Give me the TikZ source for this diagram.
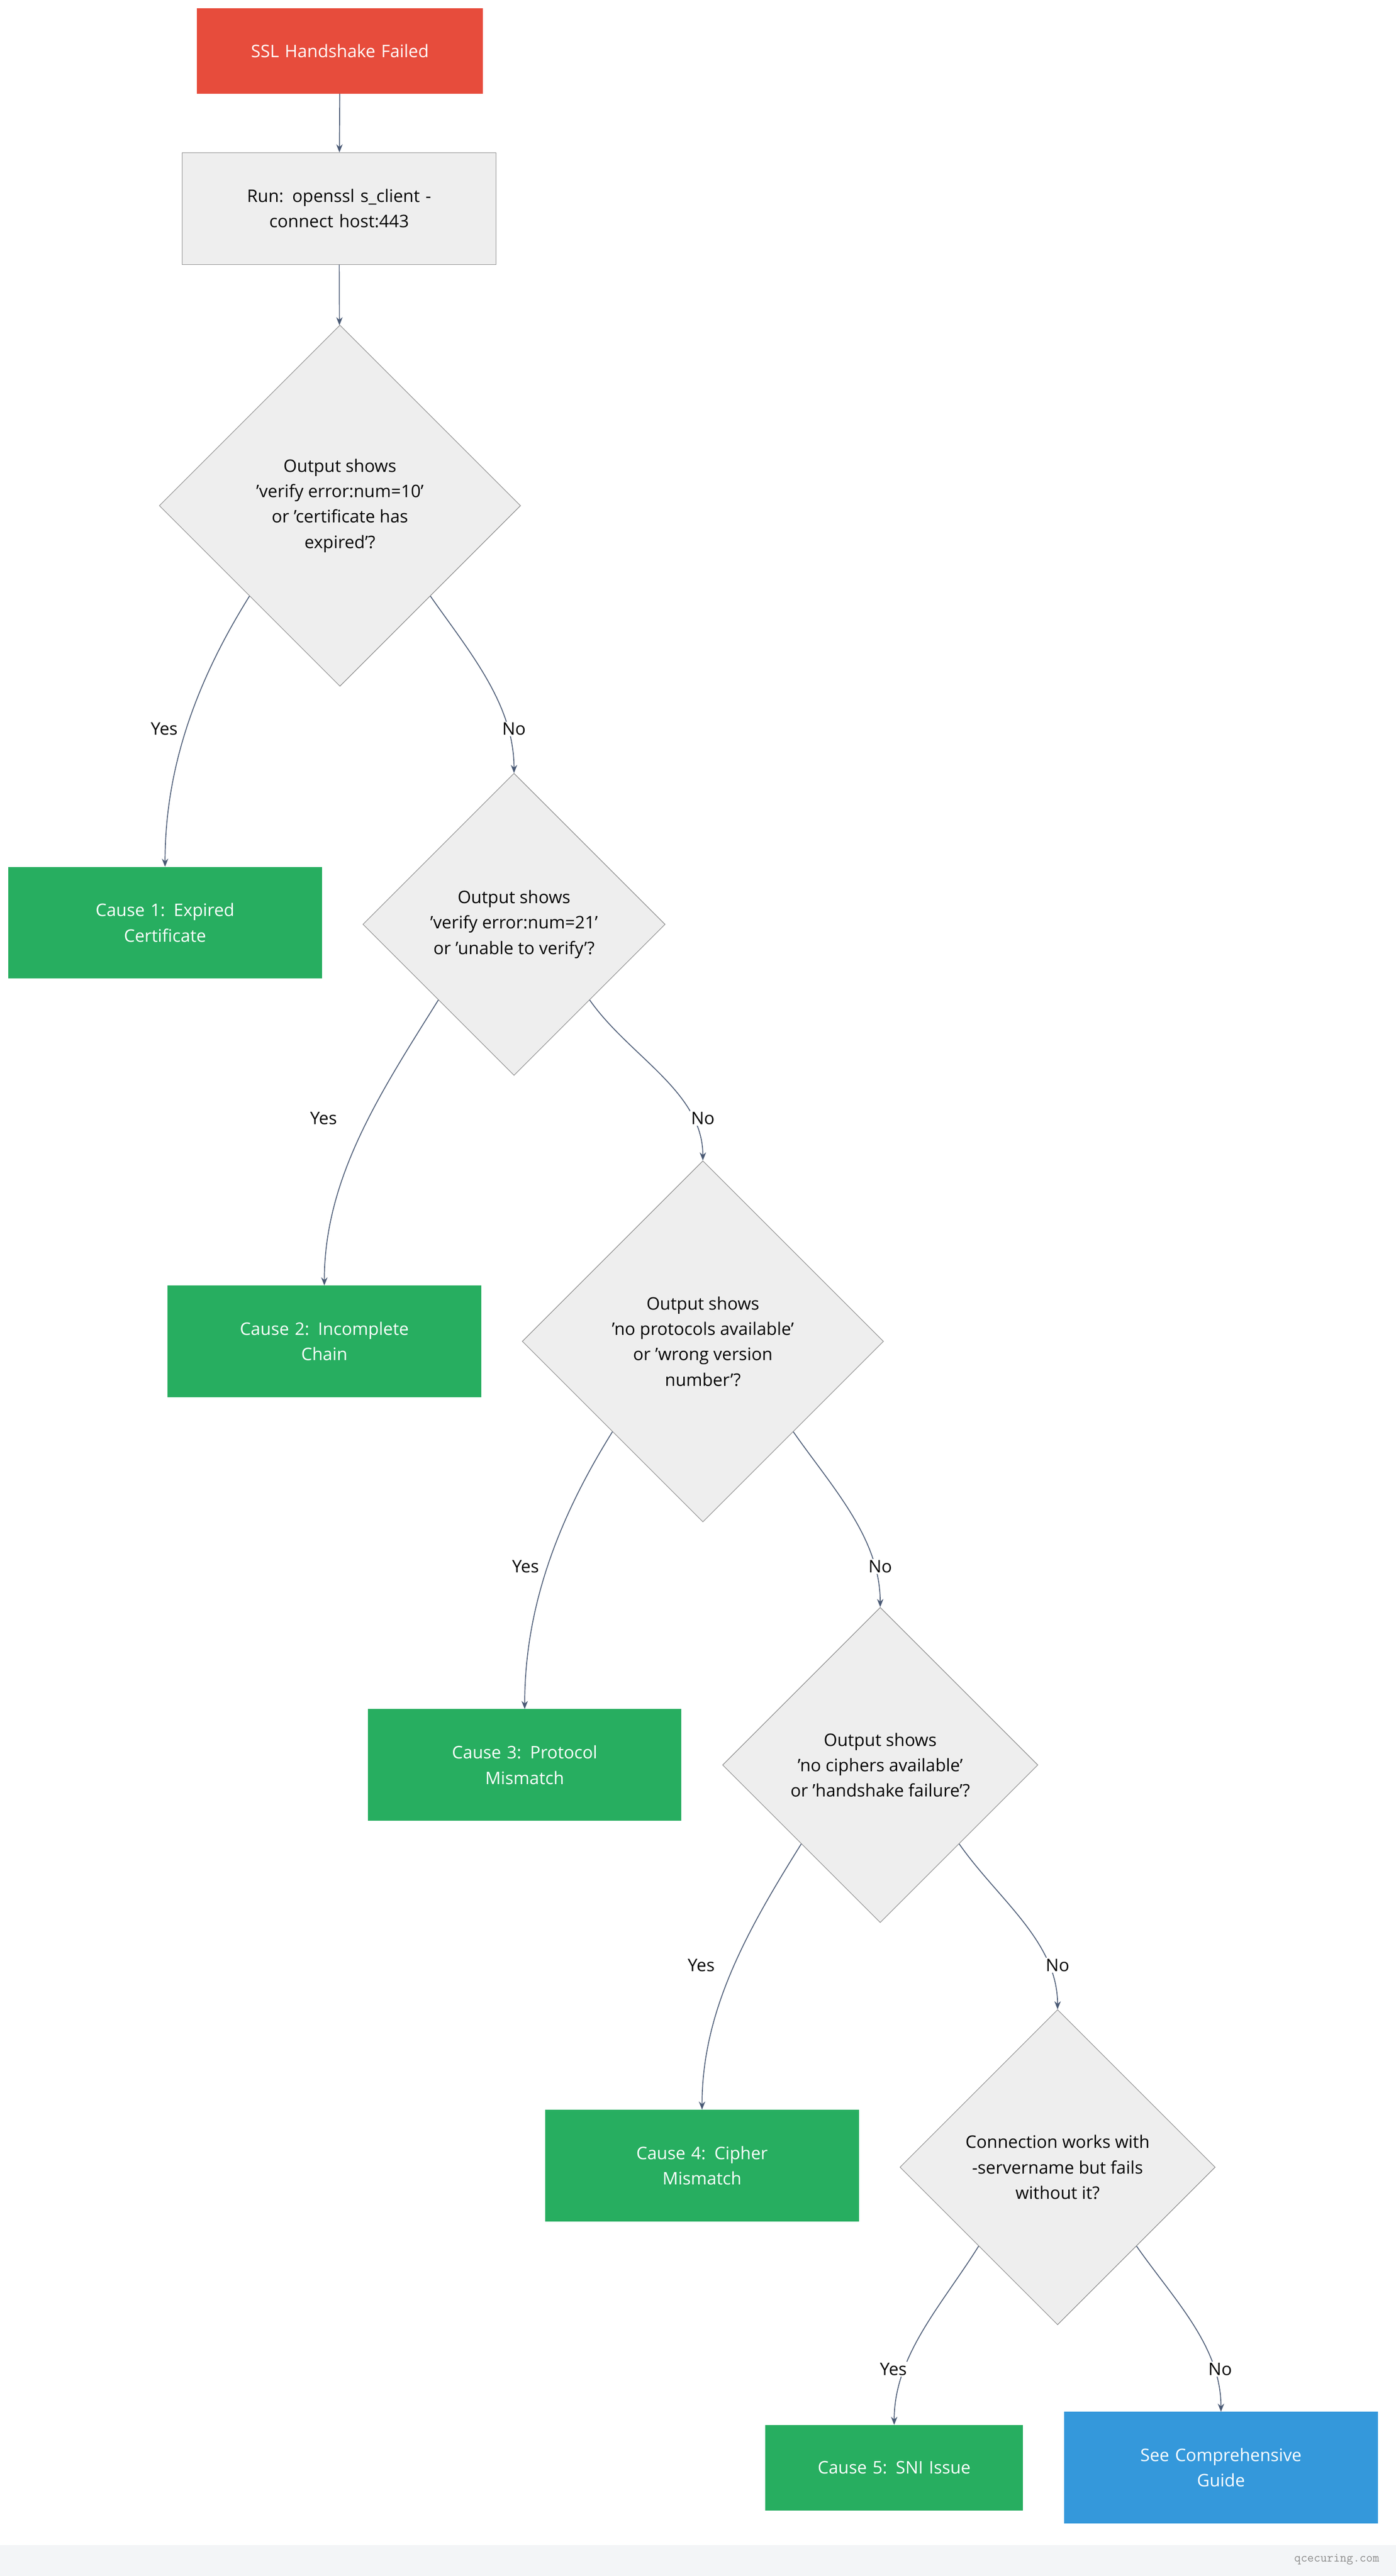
\documentclass[tikz,border=0pt]{standalone}
\usepackage{fontspec}
\setmainfont{Open Sans}
\usetikzlibrary{shapes.geometric,arrows.meta}
\definecolor{red1}{HTML}{E74C3C}
\definecolor{grn}{HTML}{27AE60}
\definecolor{blu}{HTML}{3498DB}
\definecolor{gry}{HTML}{EEEEEE}
\definecolor{edge}{HTML}{4A5A75}
\definecolor{foot}{HTML}{F3F5F7}
\begin{document}
\begin{tikzpicture}[x=0.1cm,y=-0.1cm,
 every node/.style={font=\fontsize{30}{44}\selectfont, align=center},
 box/.style={rectangle, minimum width=19.1cm, minimum height=6.8cm, inner sep=0, text width=15cm},
 gbox/.style={box, fill=grn, text=white},
 proc/.style={box, fill=gry, draw=black!45, line width=1pt},
 dia/.style={diamond, fill=gry, draw=black!45, line width=1pt, inner sep=0},
 arr/.style={draw=edge, line width=1.5pt, -{Stealth[length=14pt,width=11pt]}},
 lbl/.style={fill=white, inner sep=2pt}]
\useasboundingbox (0,0) rectangle (850,1569);
\fill[white] (0,0) rectangle (850,1569);
\fill[foot] (0,1550) rectangle (850,1569);
\node[font=\ttfamily\fontsize{22}{26}\selectfont, text=black!45] (ft) at (814,1559) {qcecuring.com};

\node[box, fill=red1, text=white, minimum width=17.4cm, minimum height=5.2cm] (s) at (207,31) {SSL Handshake Failed};
\node[proc] (r) at (206.5,127) {Run: openssl s\_client -\\connect host:443};
\node[dia, minimum width=22cm, minimum height=22cm] (d1) at (207,308) {Output shows\\'verify error:num=10'\\or 'certificate has\\expired'?};
\node[gbox] (c1) at (100.5,562) {Cause 1: Expired\\Certificate};
\node[dia, minimum width=18.4cm, minimum height=18.4cm] (d2) at (313,563) {Output shows\\'verify error:num=21'\\or 'unable to verify'?};
\node[gbox] (c2) at (197.5,817) {Cause 2: Incomplete\\Chain};
\node[dia, minimum width=22cm, minimum height=22cm] (d3) at (428,817) {Output shows\\'no protocols available'\\or 'wrong version\\number'?};
\node[gbox] (c3) at (319.5,1075) {Cause 3: Protocol\\Mismatch};
\node[dia, minimum width=19.2cm, minimum height=19.2cm] (d4) at (536,1075) {Output shows\\'no ciphers available'\\or 'handshake failure'?};
\node[gbox] (c4) at (427.5,1319) {Cause 4: Cipher\\Mismatch};
\node[dia, minimum width=19.2cm, minimum height=19.2cm] (d5) at (644,1320) {Connection works with\\-servername but fails\\without it?};
\node[gbox, minimum width=15.7cm, minimum height=5.2cm] (c5) at (544.5,1503) {Cause 5: SNI Issue};
\node[box, fill=blu, text=white] (g) at (743.5,1503) {See Comprehensive\\Guide};

\draw[arr] (s) -- (r);
\draw[arr] (r) -- (d1);
\foreach \d/\c/\n in {d1/c1/d2, d2/c2/d3, d3/c3/d4, d4/c4/d5, d5/c5/g}{
  \draw[arr] (\d.south west) to[out=-122,in=90,looseness=0.9] (\c.north);
  \draw[arr] (\d.south east) to[out=-55,in=90,looseness=0.9] (\n.north);
}
\node[lbl] (y1) at (100,444) {Yes};
\node[lbl] (n1) at (313,444) {No};
\node[lbl] (y2) at (197,681) {Yes};
\node[lbl] (n2) at (428,681) {No};
\node[lbl] (y3) at (320,954) {Yes};
\node[lbl] (n3) at (536,954) {No};
\node[lbl] (y4) at (427,1197) {Yes};
\node[lbl] (n4) at (644,1197) {No};
\node[lbl] (y5) at (544,1443) {Yes};
\node[lbl] (n5) at (743,1443) {No};
\end{tikzpicture}
\end{document}
